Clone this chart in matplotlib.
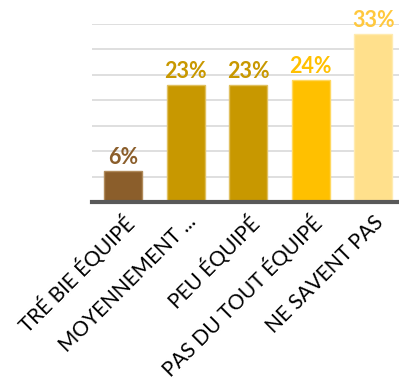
import matplotlib.pyplot as plt

categories = ['TRÉ BIE ÉQUIPÉ', 'MOYENNEMENT ...', 'PEU ÉQUIPÉ', 'PAS DU TOUT ÉQUIPÉ', 'NE SAVENT PAS']
values = [6, 23, 23, 24, 33]
bar_colors = ['#8B5E2B', '#C89800', '#C89800', '#FFC000', '#FFE08C']
edge_colors = ['#B08A5A', '#E0C060', '#E0C060', '#FFD860', '#FFEBB0']
label_colors = ['#8B5E2B', '#C89800', '#C89800', '#FFC000', '#FFC83D']

plt.rcParams['font.family'] = ['Lato', 'DejaVu Sans']

fig = plt.figure(figsize=(3.99, 3.8), dpi=100)
ax = fig.add_axes([92 / 399, 1 - 202 / 380, (399 - 92) / 399, (202 - 24) / 380])

x = range(len(categories))
ax.bar(x, values, width=0.61, color=bar_colors, edgecolor=edge_colors, linewidth=1, zorder=3)
for i, v in enumerate(values):
    ax.text(i, v + 0.6, f'{v}%', ha='center', va='bottom', fontsize=15.5,
            fontweight='bold', color=label_colors[i], zorder=4)

ax.set_ylim(0, 35)
ax.set_xlim(-0.5, 4.41)
ax.set_yticks(range(0, 36, 5))
ax.yaxis.grid(True, color='#D9D9D9', linewidth=1.2, zorder=0)
ax.tick_params(axis='y', left=False, labelleft=False)
ax.tick_params(axis='x', length=0, pad=7)
ax.set_xticks(list(x))
ax.set_xticklabels(categories, rotation=45, ha='right', rotation_mode='anchor',
                   fontsize=15, color='black')
for s in ['top', 'right', 'left']:
    ax.spines[s].set_visible(False)
ax.spines['bottom'].set_color('#595959')
ax.spines['bottom'].set_linewidth(3)
ax.spines['bottom'].set_zorder(5)

fig.savefig('out.png', dpi=100)
